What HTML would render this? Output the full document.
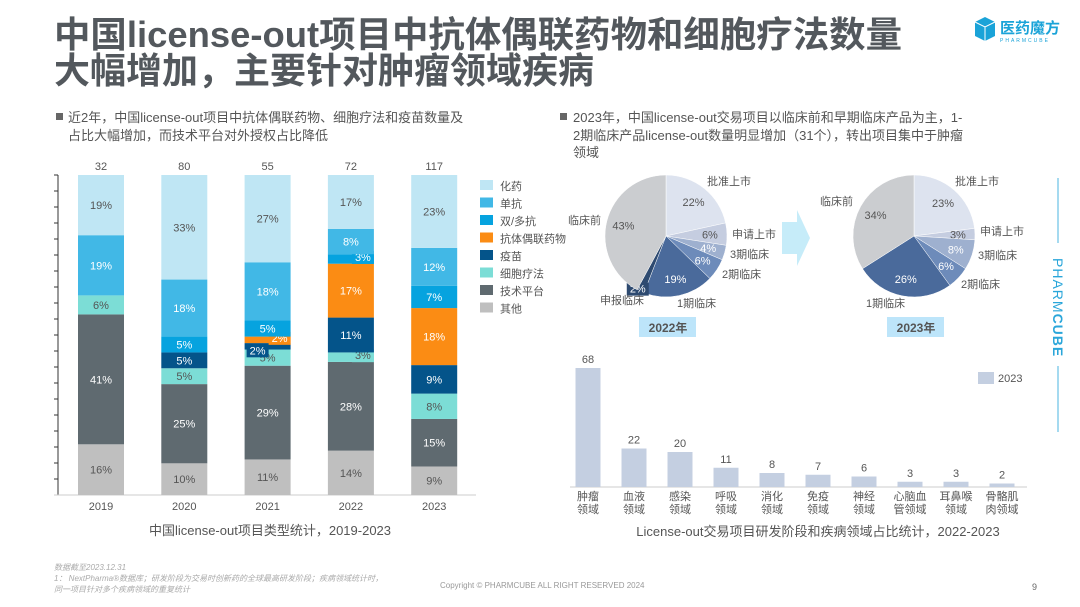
<!DOCTYPE html>
<html><head><meta charset="utf-8"><style>
body{margin:0;background:#fff;}
svg{display:block;font-family:"Liberation Sans","Noto Sans CJK SC",sans-serif;}
</style></head><body>
<svg id="s" width="1080" height="607" viewBox="0 0 1080 607">
<g font-family="'Liberation Sans','Noto Sans CJK SC',sans-serif" font-weight="bold" font-size="36" fill="#53585d">
<text x="54" y="47" textLength="848" lengthAdjust="spacingAndGlyphs">中国license-out项目中抗体偶联药物和细胞疗法数量</text>
<text x="54" y="83">大幅增加，主要针对肿瘤领域疾病</text>
</g>
<g>
<path d="M975 22 L985 17 L995 22 L995 36 L985 41 L975 36 Z" fill="#1aa3d8"/>
<path d="M975 22 L985 27 L995 22 M985 27 L985 41" stroke="#fff" stroke-width="1" fill="none"/>
<text x="1000" y="33" font-size="15" font-weight="bold" fill="#1aa3d8">医药魔方</text>
<text x="1000" y="42" font-size="5" fill="#1aa3d8" letter-spacing="2">PHARMCUBE</text>
</g>
<g font-size="13" fill="#555">
<rect x="56" y="113" width="7" height="7" fill="#666"/>
<text x="68" y="122">近2年，中国license-out项目中抗体偶联药物、细胞疗法和疫苗数量及</text>
<text x="68" y="140">占比大幅增加，而技术平台对外授权占比降低</text>
</g>
<g font-size="13" fill="#555">
<rect x="560" y="113" width="7" height="7" fill="#666"/>
<text x="573" y="122">2023年，中国license-out交易项目以临床前和早期临床产品为主，1-</text>
<text x="573" y="140">2期临床产品license-out数量明显增加（31个），转出项目集中于肿瘤</text>
<text x="573" y="157">领域</text>
</g>
<g id="stack"></g>
<g id="pies"></g>
<g id="dis"></g>
<g>
<line x1="1058" y1="178" x2="1058" y2="243" stroke="#4bb6e0"/>
<line x1="1058" y1="366" x2="1058" y2="432" stroke="#4bb6e0"/>
<text transform="translate(1053,258) rotate(90)" font-size="14" fill="#2aa6da" letter-spacing="1">PHARM<tspan font-weight="bold">CUBE</tspan></text>
</g>
<g font-size="8" font-style="italic" fill="#aaa">
<text x="54" y="570">数据截至2023.12.31</text>
<text x="54" y="581">1： NextPharma®数据库；研发阶段为交易时创新药的全球最高研发阶段；疾病领域统计时，</text>
<text x="54" y="592">同一项目针对多个疾病领域的重复统计</text>
</g>
<text x="440" y="588" font-size="8" fill="#999">Copyright © PHARMCUBE ALL RIGHT RESERVED 2024</text>
<text x="1032" y="590" font-size="9" fill="#666">9</text>
</svg>
<script>
const years=["2019","2020","2021","2022","2023"];
const totals=[32,80,55,72,117];
const seriesNames=["其他","技术平台","细胞疗法","疫苗","抗体偶联药物","双/多抗","单抗","化药"];
const sOther=[16,10,11,14,9];
const sPlatform=[41,25,29,28,15];
const sCell=[6,5,5,3,8];
const sVaccine=[0,5,2,11,9];
const sADC=[0,0,2,17,18];
const sBi=[0,5,5,3,7];
const sMab=[19,18,18,8,12];
const sChem=[19,33,27,17,23];
const stage2022=[22,6,4,6,19,2,43];
const stage2023=[23,3,8,6,26,0,34];
const stageNames=["批准上市","申请上市","3期临床","2期临床","1期临床","申报临床","临床前"];
const diseases=["肿瘤|领域","血液|领域","感染|领域","呼吸|领域","消化|领域","免疫|领域","神经|领域","心脑血|管领域","耳鼻喉|领域","骨骼肌|肉领域"];
const diseaseVals=[68,22,20,11,8,7,6,3,3,2];

const NS="http://www.w3.org/2000/svg";
function mk(p,t,a,txt){const e=document.createElementNS(NS,t);for(const k in a)e.setAttribute(k,a[k]);if(txt!==undefined)e.textContent=txt;p.appendChild(e);return e;}

const st=document.getElementById('stack');
const series=[sOther,sPlatform,sCell,sVaccine,sADC,sBi,sMab,sChem];
const colors=["#bfbfbf","#5f6a70","#7cddd6","#04548a","#fb8c14","#06a3df","#41b8e6","#bfe6f4"];
const txtCol=["#555","#fff","#555","#fff","#fff","#fff","#fff","#555"];
const top0=175,bot0=495,H=bot0-top0;
const xC=i=>101+i*83.3;
mk(st,'line',{x1:58,y1:top0,x2:58,y2:bot0,stroke:'#333','stroke-width':1});
for(let k=0;k<=20;k++){mk(st,'line',{x1:54,y1:top0+k*H/20,x2:58,y2:top0+k*H/20,stroke:'#333'});}
mk(st,'line',{x1:54,y1:bot0,x2:476,y2:bot0,stroke:'#ccc'});
years.forEach((y,i)=>{
  const sum=series.reduce((a,s)=>a+s[i],0);
  let cur=bot0;
  series.forEach((s,j)=>{
    if(!s[i])return;
    const h=s[i]/sum*H;
    const r=mk(st,'rect',{x:xC(i)-23,y:cur-h,width:46,height:h,fill:colors[j]});
    
    
    let tx=xC(i),ty=cur-h/2+4;
    if(h<10){
      tx=xC(i)+(j===3?-10:12);
      ty=cur-h/2+(j===3?8:2);
      mk(st,'rect',{x:tx-11,y:ty-10,width:22,height:13,fill:colors[j]});
    }
    const t=mk(st,'text',{x:tx,y:ty,'text-anchor':'middle','font-size':11,fill:txtCol[j]},s[i]+'%');
    
    
    cur-=h;
  });
  mk(st,'text',{x:xC(i),y:170,'text-anchor':'middle','font-size':11,fill:'#555'},totals[i]);
  mk(st,'text',{x:xC(i),y:510,'text-anchor':'middle','font-size':11,fill:'#555'},y);
});
const legN=["化药","单抗","双/多抗","抗体偶联药物","疫苗","细胞疗法","技术平台","其他"];
legN.forEach((n,k)=>{
  const g=mk(st,'g',{});
  
  
  mk(g,'rect',{x:480,y:180+k*17.5,width:13,height:10,fill:colors[7-k]});
  mk(g,'text',{x:500,y:190+k*17.5,'font-size':11,fill:'#555'},n);
});
mk(st,'text',{x:270,y:535,'text-anchor':'middle','font-size':13,fill:'#555'},'中国license-out项目类型统计，2019-2023');

const pg=document.getElementById('pies');
const pc=["#dde3ef","#c5cde0","#9eb0cf","#6d8bba","#4a6a9b","#2e4a70","#cbcdd0"];
const pcT=["#555","#555","#fff","#fff","#fff","#fff","#555"];
function pie(cx,cy,r,vals,yr){
  const sum=vals.reduce((a,b)=>a+b,0);let a0=-Math.PI/2;
  vals.forEach((v,k)=>{
    if(!v)return;
    const a1=a0+v/sum*2*Math.PI;
    const x0=cx+r*Math.cos(a0),y0=cy+r*Math.sin(a0),x1=cx+r*Math.cos(a1),y1=cy+r*Math.sin(a1);
    const p=mk(pg,'path',{d:`M${cx},${cy}L${x0},${y0}A${r},${r} 0 ${a1-a0>Math.PI?1:0} 1 ${x1},${y1}Z`,fill:pc[k],stroke:'#fff','stroke-width':0.5});
    
    
    const am=(a0+a1)/2;
    let rr=r*0.72;
    if(v/sum<0.03){
      rr=r*0.95;
      const lx=cx+rr*Math.cos(am)-4,ly=cy+rr*Math.sin(am)+4;
      mk(pg,'rect',{x:lx-11,y:ly-10,width:22,height:13,fill:pc[k]});
      mk(pg,'text',{x:lx,y:ly,'text-anchor':'middle','font-size':11,fill:pcT[k]},v+'%');
    } else {
      mk(pg,'text',{x:cx+rr*Math.cos(am),y:cy+rr*Math.sin(am)+4,'text-anchor':'middle','font-size':11,fill:pcT[k]},v+'%');
    }
    a0=a1;
  });
  mk(pg,'rect',{x:cx-27,y:cy+81,width:57,height:20,fill:'#bde5fa'});
  mk(pg,'text',{x:cx+2,y:cy+96,'text-anchor':'middle','font-size':12,'font-weight':'bold',fill:'#555'},yr+'年');
}
pie(666,236,61,stage2022,'2022');
pie(914,236,61,stage2023,'2023');
const lab=[[707,185,"批准上市"],[732,238,"申请上市"],[730,258,"3期临床"],[722,278,"2期临床"],[677,307,"1期临床"],[600,304,"申报临床"],[568,224,"临床前"],
[955,185,"批准上市"],[980,235,"申请上市"],[978,259,"3期临床"],[961,288,"2期临床"],[866,307,"1期临床"],[820,205,"临床前"]];
lab.forEach(l=>mk(pg,'text',{x:l[0],y:l[1],'font-size':11,fill:'#555'},l[2]));
mk(pg,'path',{d:"M782 222 L797 222 L797 210 L810 238 L797 266 L797 254 L782 254 Z",fill:'#c6ecf9'});

const dg=document.getElementById('dis');
const base=487,ppu=1.75,dx=i=>588+i*46;
mk(dg,'line',{x1:570,y1:base,x2:1027,y2:base,stroke:'#ccc'});
diseases.forEach((d,i)=>{
  const h=diseaseVals[i]*ppu;
  const r=mk(dg,'rect',{x:dx(i)-12.5,y:base-h,width:25,height:h,fill:'#c4cfe1'});
  
  
  mk(dg,'text',{x:dx(i),y:base-h-5,'text-anchor':'middle','font-size':11,fill:'#555'},diseaseVals[i]);
  const [a,b]=d.split('|');
  mk(dg,'text',{x:dx(i),y:500,'text-anchor':'middle','font-size':11,fill:'#555'},a);
  mk(dg,'text',{x:dx(i),y:513,'text-anchor':'middle','font-size':11,fill:'#555'},b);
});
mk(dg,'rect',{x:978,y:372,width:16,height:12,fill:'#c4cfe1'});
mk(dg,'text',{x:998,y:382,'font-size':11,fill:'#555'},'2023');
mk(dg,'text',{x:818,y:536,'text-anchor':'middle','font-size':13,fill:'#555'},'License-out交易项目研发阶段和疾病领域占比统计，2022-2023');
</script>
</body></html>
